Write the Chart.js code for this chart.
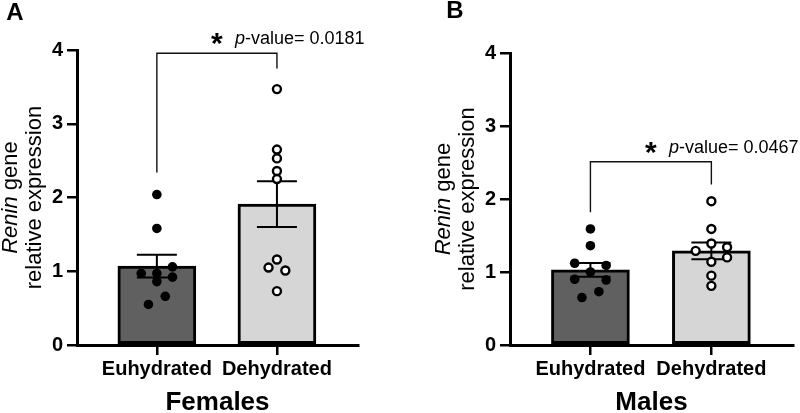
<!DOCTYPE html>
<html>
<head>
<meta charset="utf-8">
<script src="https://cdn.jsdelivr.net/npm/chart.js@4.4.1/dist/chart.umd.min.js"></script>
<style>
  body { margin: 0; background: #fff; }
  .panel { position: absolute; top: 0; width: 400px; height: 413px; }
</style>
</head>
<body>
<div class="panel" style="left:0"><canvas id="chartA"></canvas></div>
<div class="panel" style="left:400px"><canvas id="chartB"></canvas></div>
<script>
'use strict'

// groups on the x axis
const groups = ['Euhydrated', 'Dehydrated'];
const barColors = ['#606060', '#d6d6d6'];

// females (panel A)
const femaleMean = [1.07, 1.91];
const femaleSem = [0.155, 0.31];
const femaleEu = [2.04, 1.58, 0.97, 0.97, 1.06, 0.92, 0.86, 0.66, 0.55];
const femaleEuJit = [0, 0, -0.13, 0, 0.13, 0.13, 0, 0.07, -0.07];
const femaleDe = [3.47, 2.65, 2.53, 2.36, 2.25, 1.16, 1.05, 1.01, 0.73];
const femaleDeJit = [0, 0, 0, 0, 0, 0, -0.07, 0.07, 0];
const femaleBracket = [2.34, 3.955, 3.75]; // left end, top, right end
const femaleP = '0.0181';

// males (panel B)
const maleMean = [1.03, 1.29];
const maleSem = [0.095, 0.115];
const maleEu = [1.59, 1.36, 1.12, 1.09, 1.00, 0.90, 0.89, 0.73, 0.65];
const maleEuJit = [0, 0, -0.13, 0.13, 0, -0.13, 0.13, 0.07, -0.07];
const maleDe = [1.97, 1.59, 1.39, 1.29, 1.34, 1.20, 1.14, 0.95, 0.81];
const maleDeJit = [0, 0, 0, -0.13, 0.13, 0.13, 0, 0, 0];
const maleBracket = [1.82, 2.51, 2.2];
const maleP = '0.0467';

const FONT = "'Liberation Sans', Arial, sans-serif";
Chart.defaults.font.family = FONT;
Chart.defaults.color = '#000';

// draws letter, y title, error bars and the significance bracket
function decorPlugin(p) {
  return {
    id: 'decor',
    afterDatasetDraw(chart, args) {
      if (args.index !== 0) return;
      const ctx = chart.ctx;
      const xs = chart.scales.x, ys = chart.scales.y;
      ctx.save();
      ctx.strokeStyle = '#000';
      ctx.lineWidth = 2;
      for (let i = 0; i < p.mean.length; i++) {
        const x = xs.getPixelForValue(i);
        const top = ys.getPixelForValue(p.mean[i] + p.sem[i]);
        const bot = ys.getPixelForValue(p.mean[i] - p.sem[i]);
        ctx.beginPath();
        ctx.moveTo(x, top); ctx.lineTo(x, bot);
        ctx.moveTo(x - 20, top); ctx.lineTo(x + 20, top);
        ctx.moveTo(x - 20, bot); ctx.lineTo(x + 20, bot);
        ctx.stroke();
      }
      ctx.restore();
    },
    afterDraw(chart) {
      const ctx = chart.ctx;
      const xs = chart.scales.x, ys = chart.scales.y;
      const area = chart.chartArea;
      ctx.save();
      ctx.fillStyle = '#000';

      // panel letter
      ctx.font = 'bold 24px ' + FONT;
      ctx.textAlign = 'center';
      ctx.textBaseline = 'middle';
      ctx.fillText(p.letter, p.letterX, p.letterY);

      // y title, rotated, with italic gene name
      const cy = (area.top + area.bottom) / 2;
      ctx.save();
      ctx.translate(p.titleX1, cy);
      ctx.rotate(-Math.PI / 2);
      ctx.textAlign = 'left';
      ctx.font = 'italic 22px ' + FONT;
      const w1 = ctx.measureText('Renin').width;
      ctx.font = '22px ' + FONT;
      const w2 = ctx.measureText(' gene').width;
      let sx = -(w1 + w2) / 2;
      ctx.font = 'italic 22px ' + FONT;
      ctx.fillText('Renin', sx, 0);
      ctx.font = '22px ' + FONT;
      ctx.fillText(' gene', sx + w1, 0);
      ctx.restore();
      ctx.save();
      ctx.translate(p.titleX2, cy);
      ctx.rotate(-Math.PI / 2);
      ctx.font = '22px ' + FONT;
      ctx.textAlign = 'center';
      ctx.fillText('relative expression', 0, 0);
      ctx.restore();

      // bracket
      const x0 = xs.getPixelForValue(0), x1 = xs.getPixelForValue(1);
      const yTop = ys.getPixelForValue(p.bracket[1]);
      ctx.strokeStyle = '#111';
      ctx.lineWidth = 1.4;
      ctx.beginPath();
      ctx.moveTo(x0, ys.getPixelForValue(p.bracket[0]));
      ctx.lineTo(x0, yTop);
      ctx.lineTo(x1, yTop);
      ctx.lineTo(x1, ys.getPixelForValue(p.bracket[2]));
      ctx.stroke();

      // significance text
      const mid = (x0 + x1) / 2;
      const base = yTop - 9;
      ctx.textBaseline = 'alphabetic';
      ctx.textAlign = 'center';
      ctx.font = 'bold 30px ' + FONT;
      ctx.fillText('*', mid, base + 9);
      ctx.textAlign = 'left';
      ctx.font = 'italic 18px ' + FONT;
      const tx = mid + 18;
      ctx.fillText('p', tx, base);
      const pw = ctx.measureText('p').width;
      ctx.font = '18px ' + FONT;
      ctx.fillText('-value= ' + p.pval, tx + pw, base);
      ctx.restore();
    }
  };
}

function makePanel(id, p) {
  const eu = p.eu.map((v, i) => ({ x: 0 + p.euJit[i], y: v }));
  const de = p.de.map((v, i) => ({ x: 1 + p.deJit[i], y: v }));
  return new Chart(document.getElementById(id), {
    type: 'bar',
    data: {
      datasets: [{
        data: p.mean.map((v, i) => ({ x: i, y: v })),
        backgroundColor: barColors,
        borderColor: '#000',
        borderWidth: 3,
        borderSkipped: false,
        barThickness: 78,
        order: 2
      }, {
        type: 'scatter',
        data: eu,
        pointRadius: 4.8,
        pointBackgroundColor: '#000',
        pointBorderColor: '#000',
        pointBorderWidth: 0,
        order: 1
      }, {
        type: 'scatter',
        data: de,
        pointRadius: 4,
        pointBackgroundColor: '#fff',
        pointBorderColor: '#000',
        pointBorderWidth: 2.4,
        order: 0
      }]
    },
    options: {
      responsive: false,
      animation: false,
      layout: { padding: { left: 0, right: p.padRight, top: p.padTop, bottom: 0 } },
      plugins: { legend: { display: false }, tooltip: { enabled: false } },
      scales: {
        x: {
          type: 'linear',
          min: -0.665,
          max: 1.675,
          offset: false,
          afterBuildTicks: (s) => { s.ticks = groups.map((g, i) => ({ value: i })); },
          afterFit: (s) => { s.height = 68; },
          ticks: {
            callback: (v) => groups[v],
            font: { size: 20, weight: 'bold' },
            color: '#000',
            padding: 2,
            maxRotation: 0,
            autoSkip: false
          },
          grid: { drawOnChartArea: false, offset: false, tickLength: 10, color: '#000', lineWidth: 2.5 },
          border: { color: '#000', width: 3 },
          title: { display: true, text: p.sex, font: { size: 26, weight: 'bold', lineHeight: 0.8 }, color: '#000', padding: { top: 0, bottom: 0 } }
        },
        y: {
          min: 0,
          max: 4,
          afterFit: (s) => { s.width = p.yWidth; },
          ticks: { stepSize: 1, font: { size: 20, weight: 'bold' }, color: '#000', padding: 4 },
          grid: { drawOnChartArea: false, tickLength: 10, color: '#000', lineWidth: 2.5 },
          border: { color: '#000', width: 3 }
        }
      }
    },
    plugins: [decorPlugin(p)]
  });
}

const cA = document.getElementById('chartA');
cA.width = 400; cA.height = 413;
const cB = document.getElementById('chartB');
cB.width = 400; cB.height = 413;

makePanel('chartA', {
  letter: 'A', letterX: 15, letterY: 13, sex: 'Females',
  mean: femaleMean, sem: femaleSem, eu: femaleEu, euJit: femaleEuJit, de: femaleDe, deJit: femaleDeJit,
  bracket: femaleBracket, pval: femaleP,
  yWidth: 77, padTop: 50, padRight: 42, titleX1: 11, titleX2: 35
});

makePanel('chartB', {
  letter: 'B', letterX: 55, letterY: 11, sex: 'Males',
  mean: maleMean, sem: maleSem, eu: maleEu, euJit: maleEuJit, de: maleDe, deJit: maleDeJit,
  bracket: maleBracket, pval: maleP,
  yWidth: 110, padTop: 53, padRight: 7, titleX1: 44, titleX2: 68
});
</script>
</body>
</html>
